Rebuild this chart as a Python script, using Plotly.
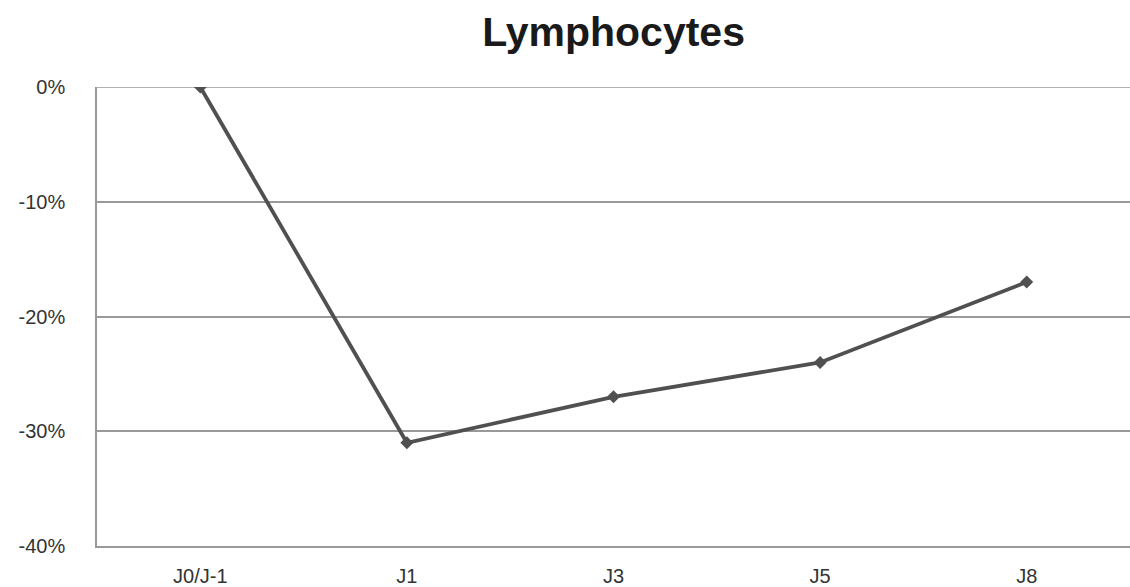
import plotly.graph_objects as go

categories = ["J0/J-1", "J1", "J3", "J5", "J8"]
values = [0, -31, -27, -24, -17]
y_ticks = [0, -10, -20, -30, -40]
y_tick_labels = ["0%", "-10%", "-20%", "-30%", "-40%"]

FONT = "Liberation Sans, Arial, Helvetica, sans-serif"
GRID = "#999999"

fig = go.Figure()
fig.add_trace(go.Scatter(
    x=categories, y=values, mode="lines+markers",
    line=dict(color="#505050", width=3.8),
    marker=dict(symbol="diamond", size=10, color="#505050"),
    showlegend=False,
))

# gridline at the top tick (Plotly omits gridlines lying on the plot edge)
fig.add_shape(type="line", xref="paper", x0=0, x1=1, yref="y", y0=y_ticks[0], y1=y_ticks[0],
              line=dict(color=GRID, width=1.5), layer="below")

fig.update_layout(
    width=1130, height=587,
    margin=dict(l=97, r=0, t=87, b=36),
    paper_bgcolor="white", plot_bgcolor="white",
    title=dict(text="<b>Lymphocytes</b>", x=0.543, xanchor="center", y=0.946, yanchor="middle",
               font=dict(family=FONT, size=41, color="#1a1a1a")),
    font=dict(family=FONT, size=20, color="#333333"),
)
fig.update_xaxes(
    type="category", range=[-0.5, 4.5],
    showgrid=False, showline=True, mirror=False, linecolor=GRID, linewidth=1.5,
    zeroline=False, ticks="", ticklabelstandoff=11,
    tickfont=dict(family=FONT, size=20, color="#333333"),
)
fig.update_yaxes(
    range=[-40, 0], tickvals=y_ticks, ticktext=y_tick_labels,
    showgrid=True, gridcolor=GRID, gridwidth=1.5,
    showline=True, mirror=False, linecolor=GRID, linewidth=1.5,
    zeroline=False, ticks="", ticklabelstandoff=26,
    tickfont=dict(family=FONT, size=20, color="#333333"),
)
fig.write_html(
    "out.html",
    config={"displayModeBar": False},
    post_script="document.body.style.margin='0';document.body.style.padding='0';"
                "Plotly.relayout('{plot_id}', {width:1130, height:587});",
)
